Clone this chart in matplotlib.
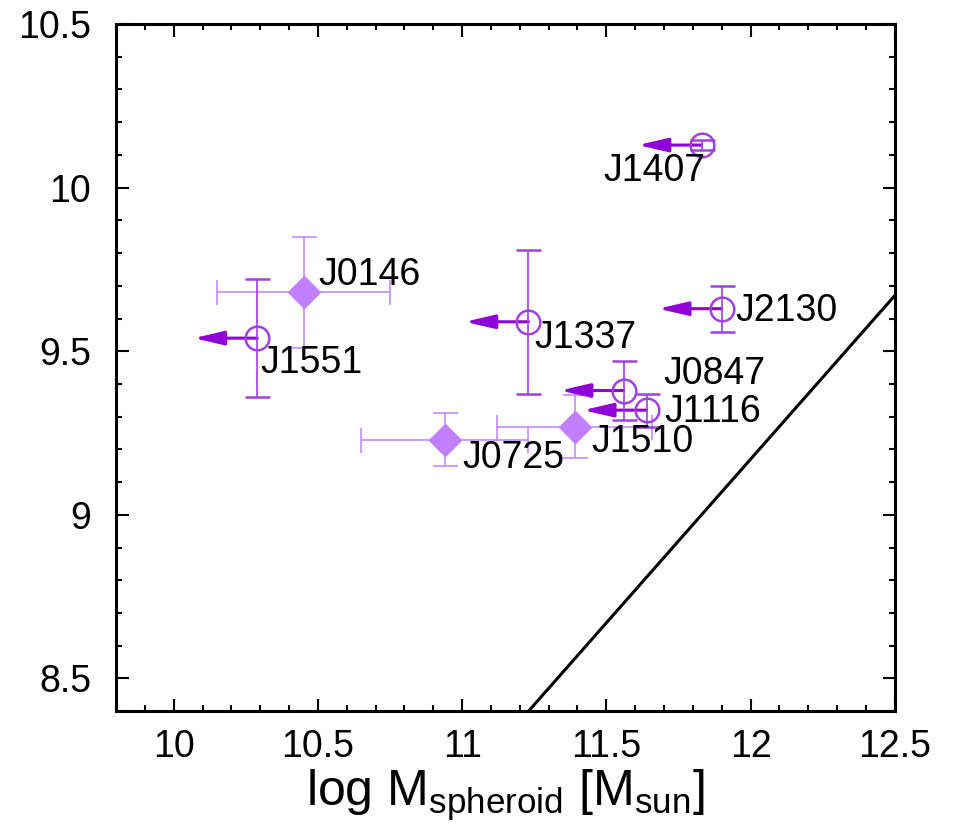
import matplotlib
matplotlib.use("Agg")
import matplotlib.pyplot as plt
from matplotlib.ticker import MultipleLocator

plt.rcParams['font.family'] = ['Liberation Sans', 'DejaVu Sans']

# diamonds: measured points with error bars in both axes
dia_names = ['J0146', 'J0725', 'J1510']
dia_x = [10.45, 10.94, 11.39]
dia_xerr = [0.30, 0.29, 0.27]
dia_y = [9.68, 9.23, 9.27]
dia_yerr = [0.17, 0.08, 0.095]

# open circles: upper limits in x
lim_names = ['J1551', 'J1337', 'J0847', 'J1116', 'J1407', 'J2130']
lim_x = [10.29, 11.23, 11.56, 11.64, 11.83, 11.90]
lim_y = [9.54, 9.59, 9.38, 9.32, 10.13, 9.63]
lim_yerr = [0.18, 0.22, 0.09, 0.05, 0.016, 0.07]
arrow_len = 0.22

# relation line
line_x = [11.0, 12.5]
line_slope = 1.0
line_offset = -2.83

# label offsets in pixels
label_off = {'J0146': (15, 17), 'J0725': (18, -18), 'J1510': (17, -15),
             'J1551': (3, -25), 'J1337': (6, -16), 'J0847': (40, 17),
             'J1116': (18, -2), 'J1407': (-98, -26), 'J2130': (14, -2)}

dia_col = '#c080ff'
circ_col = '#a040e0'
arr_col = '#9000d8'

fig = plt.figure(figsize=(9.59, 8.27), dpi=100)
ax = fig.add_axes([0.121, 0.140, 0.812, 0.831])

ax.plot(line_x, [line_slope * v + line_offset for v in line_x], color='black', lw=2.2)

ax.errorbar(dia_x, dia_y, xerr=dia_xerr, yerr=dia_yerr, fmt='D', ms=16,
            color=dia_col, mec=dia_col, ecolor=dia_col, elinewidth=1.1,
            capsize=9, capthick=1.1, zorder=3)

for i in range(len(lim_x)):
    ax.annotate('', xy=(lim_x[i] - arrow_len, lim_y[i]), xytext=(lim_x[i], lim_y[i]),
                arrowprops=dict(arrowstyle='-|>,head_length=1.8,head_width=0.42',
                                color=arr_col, lw=2.2, shrinkA=0, shrinkB=0,
                                mutation_scale=10), zorder=4)
ax.errorbar(lim_x, lim_y, yerr=lim_yerr, fmt='o', ms=17, mfc='none',
            mec=circ_col, mew=1.8, ecolor=circ_col, elinewidth=1.2,
            capsize=9, capthick=1.2, zorder=5)

for n, x, y in zip(dia_names + lim_names, dia_x + lim_x, dia_y + lim_y):
    ax.annotate(n, xy=(x, y), xytext=label_off[n], textcoords='offset pixels',
                ha='left', va='center', fontsize=27, color='black', zorder=6)

ax.set_xlim(9.8, 12.5)
ax.set_ylim(8.4, 10.5)
ax.xaxis.set_major_locator(MultipleLocator(0.5))
ax.xaxis.set_minor_locator(MultipleLocator(0.1))
ax.yaxis.set_major_locator(MultipleLocator(0.5))
ax.yaxis.set_minor_locator(MultipleLocator(0.1))
ax.xaxis.set_major_formatter(plt.FuncFormatter(lambda v, p: ('%g' % v)))
ax.yaxis.set_major_formatter(plt.FuncFormatter(lambda v, p: ('%g' % v)))
ax.tick_params(which='both', direction='in', top=True, right=True, labelsize=27, width=1.5)
ax.tick_params(which='major', length=9)
ax.tick_params(axis='x', which='major', pad=13)
ax.tick_params(axis='y', which='major', pad=18)
ax.tick_params(which='minor', length=4.5)
for s in ax.spines.values():
    s.set_linewidth(2.2)

ax.set_xlabel(r'log M$_\mathregular{spheroid}$ [M$_\mathregular{sun}$]', fontsize=36, labelpad=2)

fig.savefig('out.png', dpi=100)
